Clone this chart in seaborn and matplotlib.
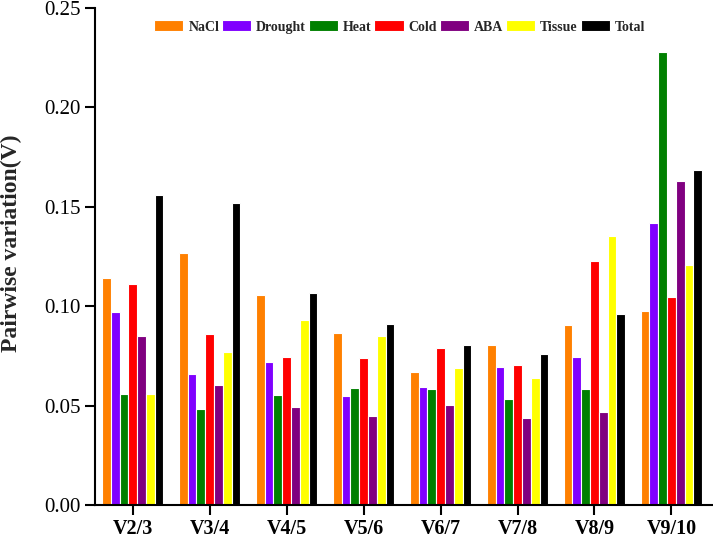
import pandas as pd
import matplotlib
matplotlib.use("Agg")
import matplotlib.pyplot as plt
import seaborn as sns

groups = ["V2/3", "V3/4", "V4/5", "V5/6", "V6/7", "V7/8", "V8/9", "V9/10"]
conditions = ["NaCl", "Drought", "Heat", "Cold", "ABA", "Tissue", "Total"]
colors = ["#FF8000", "#8000FF", "#008000", "#FF0000", "#800080", "#FFFF00", "#000000"]

nacl    = [0.114, 0.1266, 0.1056, 0.0867, 0.0669, 0.0803, 0.0905, 0.0974]
drought = [0.0969, 0.0659, 0.0718, 0.0550, 0.0595, 0.0696, 0.0744, 0.1418]
heat    = [0.0557, 0.0483, 0.0553, 0.0587, 0.0584, 0.0532, 0.0584, 0.2280]
cold    = [0.1110, 0.0859, 0.0746, 0.0738, 0.0791, 0.0703, 0.1227, 0.1045]
aba     = [0.0850, 0.0602, 0.0494, 0.0449, 0.0502, 0.0436, 0.0466, 0.1630]
tissue  = [0.0560, 0.0770, 0.0929, 0.0849, 0.0688, 0.0640, 0.1355, 0.1207]
total   = [0.1560, 0.1518, 0.1066, 0.0912, 0.0803, 0.0761, 0.0962, 0.1684]

series = [nacl, drought, heat, cold, aba, tissue, total]
rows = []
for cond, vals in zip(conditions, series):
    for g, v in zip(groups, vals):
        rows.append({"group": g, "cond": cond, "value": v})
df = pd.DataFrame(rows)

sns.set_style("ticks")
plt.rcParams["font.family"] = ["Liberation Serif", "DejaVu Serif"]

fig = plt.figure(figsize=(7.13, 5.39), dpi=100)
ax = fig.add_axes([95 / 713, 34 / 539, 618 / 713, 497 / 539])

sns.barplot(data=df, x="group", y="value", hue="cond", order=groups,
            hue_order=conditions, palette=colors, saturation=1, width=0.8,
            edgecolor="white", linewidth=0.8, ax=ax)

ax.set_xlim(-0.49, 7.54)
ax.set_ylim(0, 0.25)
ax.set_yticks([0, 0.05, 0.10, 0.15, 0.20, 0.25])
ax.set_yticklabels(["%.2f" % t for t in ax.get_yticks()], fontsize=15)
ax.set_xticks(range(len(groups)))
ax.set_xticklabels(groups, fontsize=14.5, fontweight="bold")
ax.set_xlabel("")
ax.set_ylabel("Pairwise variation(V)", fontsize=17, fontweight="bold")
ax.yaxis.set_label_coords(-0.118, 0.527)
ax.tick_params(axis="both", direction="out", length=7, width=1.5, colors="black")
ax.tick_params(axis="x", pad=3)
sns.despine(ax=ax)
for s in ["left", "bottom"]:
    ax.spines[s].set_linewidth(1.5)
    ax.spines[s].set_color("black")

leg = ax.legend(loc="center", bbox_to_anchor=(0.493, 0.962), ncol=7, frameon=False,
                prop={"weight": "bold", "size": 10}, handlelength=2.1,
                handleheight=0.86, handletextpad=0.36, columnspacing=0.2)
for h in leg.legend_handles:
    h.set_edgecolor("white")

fig.savefig("out.png", dpi=100)
